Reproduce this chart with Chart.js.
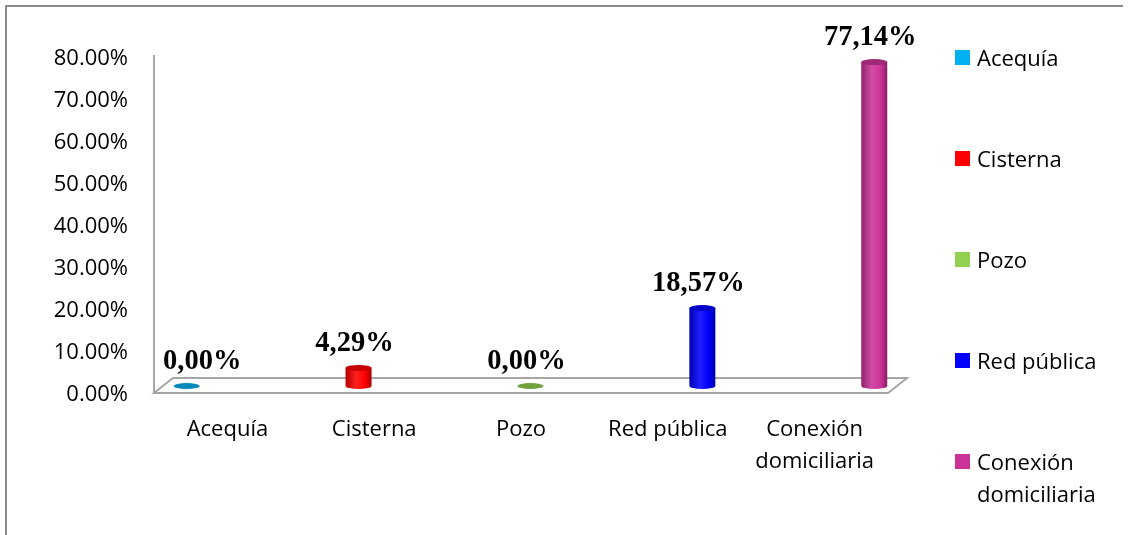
<!DOCTYPE html>
<html>
<head>
<meta charset="utf-8">
<script src="https://cdn.jsdelivr.net/npm/chart.js@4.4.0/dist/chart.umd.min.js"></script>
<style>
  html, body { margin: 0; padding: 0; background: #fff; }
  #wrap { position: relative; width: 1129px; height: 535px; overflow: hidden; }
  #frame {
    position: absolute; left: 5px; top: 5px; width: 1116px; height: 600px;
    border-left: 2px solid #8c8c8c; border-top: 2px solid #8c8c8c;
  }
  #chart { position: absolute; left: 0; top: 0; }
  .legend-item {
    position: absolute; left: 955px;
    font: 22px "Open Sans", sans-serif; line-height: 32px; color: #000;
    padding-left: 22px;
  }
  .legend-item i {
    position: absolute; left: 0; top: 9px; width: 15px; height: 15px;
  }
</style>
</head>
<body>
<div id="wrap">
  <div id="frame"></div>
  <canvas id="chart" width="1129" height="535"></canvas>
</div>
<script>
const categories = [`Acequía`, `Cisterna`, `Pozo`, `Red pública`, [`Conexión`, `domiciliaria`]];
const values = [0, 4.29, 0, 18.57, 77.14];
const seriesColors = [`#00b0f0`, `#ff0000`, `#92d050`, `#0000ff`, `#cc3399`];
const yTicks = [0, 10, 20, 30, 40, 50, 60, 70, 80];

const shade = (hex, f) => {
  const n = parseInt(hex.slice(1), 16);
  const ch = [(n >> 16) & 255, (n >> 8) & 255, n & 255].map((c) => {
    const v = f < 0 ? c * (1 + f) : c + (255 - c) * f;
    return Math.round(Math.max(0, Math.min(255, v)));
  });
  return `rgb(${ch.join(`,`)})`;
};

const formatValue = (v) => `${v.toFixed(2).replace(`.`, `,`)}%`;

// floor and left wall line of the 3D box
const floorPlugin = {
  id: `floor`,
  beforeDatasetsDraw(chart) {
    const {ctx, chartArea} = chart;
    const zero = chart.scales.y.getPixelForValue(0);
    const back = zero - 8;
    const front = zero + 7;
    const depth = 19;
    ctx.save();
    ctx.strokeStyle = `#a6a6a6`;
    ctx.lineWidth = 2;
    ctx.fillStyle = `#fff`;
    ctx.beginPath();
    ctx.moveTo(chartArea.left, front);
    ctx.lineTo(chartArea.left + depth, back);
    ctx.lineTo(chartArea.right + depth, back);
    ctx.lineTo(chartArea.right, front);
    ctx.closePath();
    ctx.fill();
    ctx.stroke();
    ctx.beginPath();
    ctx.moveTo(chartArea.left, chartArea.top + 5);
    ctx.lineTo(chartArea.left, front);
    ctx.stroke();
    ctx.restore();
  }
};

// cylinders and value labels
const cylinderPlugin = {
  id: `cylinders`,
  afterDatasetsDraw(chart) {
    const {ctx, chartArea} = chart;
    const meta = chart.getDatasetMeta(0);
    const ry = 3;
    ctx.save();
    meta.data.forEach((bar, i) => {
      const color = seriesColors[i];
      const rx = bar.width / 2;
      const left = bar.x - rx;
      const right = bar.x + rx;
      const top = bar.y;
      const base = bar.base;

      if (base - top > 0.5) {
        const grad = ctx.createLinearGradient(left, 0, right, 0);
        grad.addColorStop(0, shade(color, -0.3));
        grad.addColorStop(0.4, shade(color, 0.12));
        grad.addColorStop(0.75, color);
        grad.addColorStop(1, shade(color, -0.35));
        ctx.fillStyle = grad;
        ctx.beginPath();
        ctx.moveTo(left, top);
        ctx.lineTo(left, base);
        ctx.ellipse(bar.x, base, rx, ry, 0, Math.PI, 0, true);
        ctx.lineTo(right, top);
        ctx.closePath();
        ctx.fill();
      }
      ctx.fillStyle = shade(color, -0.22);
      ctx.beginPath();
      ctx.ellipse(bar.x, top, rx, ry, 0, 0, Math.PI * 2);
      ctx.fill();

      const text = formatValue(values[i]);
      ctx.font = `bold 28.5px "Liberation Serif", serif`;
      ctx.fillStyle = `#000`;
      ctx.textAlign = `center`;
      ctx.textBaseline = `middle`;
      const half = ctx.measureText(text).width / 2;
      const lx = Math.max(bar.x - 4, chartArea.left + half + 9);
      ctx.fillText(text, lx, top - 24);
    });
    ctx.restore();
  }
};

const ctx = document.getElementById(`chart`).getContext(`2d`);
new Chart(ctx, {
  type: `bar`,
  plugins: [floorPlugin, cylinderPlugin],
  data: {
    labels: categories,
    datasets: [{
      data: values.map((v, i) => ({x: i, y: v})),
      xAxisID: `xb`,
      backgroundColor: `rgba(0,0,0,0)`,
      borderWidth: 0,
      barThickness: 26
    }]
  },
  options: {
    responsive: false,
    animation: false,
    events: [],
    layout: {padding: {left: 0, right: 241, top: 50, bottom: 0}},
    plugins: {legend: {display: false}, tooltip: {enabled: false}},
    scales: {
      x: {
        type: `category`,
        offset: true,
        grid: {display: false, drawTicks: false},
        border: {display: false},
        ticks: {
          color: `#000`,
          padding: 28,
          maxRotation: 0,
          font: {family: `Open Sans`, size: 22, lineHeight: 1.45}
        },
        afterFit: (s) => { s.height = 149; }
      },
      xb: {
        type: `linear`,
        display: false,
        offset: false,
        grid: {offset: false},
        min: -0.19,
        max: 4.08
      },
      y: {
        min: 0,
        max: 80,
        afterBuildTicks: (s) => { s.ticks = yTicks.map((v) => ({value: v})); },
        grid: {display: false, drawTicks: false},
        border: {display: false},
        ticks: {
          color: `#000`,
          padding: 26,
          labelOffset: 9,
          font: {family: `Open Sans`, size: 22},
          callback: (v) => `${Number(v).toFixed(2)}%`
        },
        afterFit: (s) => { s.width = 154; }
      }
    }
  }
});

// legend on the right, one entry per category
const wrap = document.getElementById(`wrap`);
categories.forEach((cat, i) => {
  const item = document.createElement(`div`);
  item.className = `legend-item`;
  item.style.top = `${41 + i * 101}px`;
  const lines = Array.isArray(cat) ? cat : [cat];
  item.innerHTML = `<i style="background:${seriesColors[i]}"></i>${lines.join(`<br>`)}`;
  wrap.appendChild(item);
});
</script>
</body>
</html>
